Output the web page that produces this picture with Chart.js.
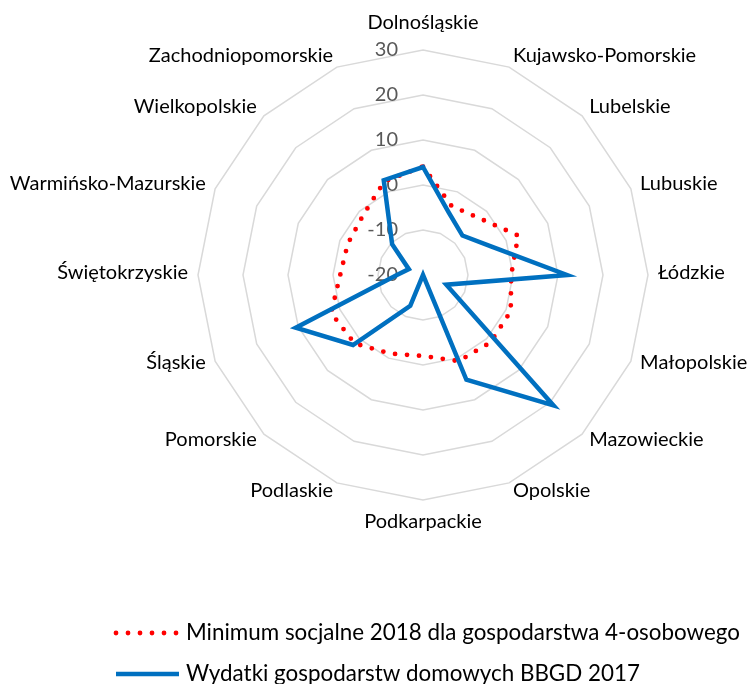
<!DOCTYPE html>
<html>
<head>
<meta charset="utf-8">
<script src="https://cdn.jsdelivr.net/npm/chart.js@4"></script>
<style>
  body { margin: 0; background: #fff; }
  #wrap { width: 747px; height: 684px; position: relative; }
</style>
</head>
<body>
<div id="wrap"><canvas id="radar"></canvas></div>
<script>
const regions = ["Dolnośląskie", "Kujawsko-Pomorskie", "Lubelskie", "Lubuskie", "Łódzkie", "Małopolskie",
    "Mazowieckie", "Opolskie", "Podkarpackie", "Podlaskie", "Pomorskie", "Śląskie", "Świętokrzyskie",
    "Warmińsko-Mazurskie", "Wielkopolskie", "Zachodniopomorskie"];
const minimumSocjalne = [4.1, -3.4, -2.2, 2.9, -0.4, 1.1, 1.2, 0.7, -2.0, -1.1, 1.5, 2.1, -1.6, -1.9, -1.2, 2.5];
const wydatkiBBGD = [4, -5, -7.6, -3.5, 12, -14.4, 21, 5.2, -20, -12.6, 2, 10.6, -14.2, -16.6, -10.3, 2.8];
const tickValues = [-20, -10, 0, 10, 20, 30];
const seriesNames = ["Minimum socjalne 2018 dla gospodarstwa 4-osobowego", "Wydatki gospodarstw domowych BBGD 2017"];

const labelFont = "20px Lato";

// axis numbers sit left of the vertical axis, under the lines
const tickPlugin = {
    id: "tickText",
    beforeDatasetsDraw(chart) {
        const r = chart.scales.r;
        const ctx = chart.ctx;
        ctx.save();
        ctx.font = labelFont;
        ctx.fillStyle = "#595959";
        ctx.textAlign = "right";
        ctx.textBaseline = "middle";
        tickValues.forEach(v => {
            ctx.fillText(String(v), r.xCenter - 25, r.yCenter - r.getDistanceFromCenterForValue(v));
        });
        ctx.restore();
    }
};

// region names around the outer ring, plus the legend at the bottom
const textPlugin = {
    id: "outerText",
    afterDraw(chart) {
        const r = chart.scales.r;
        const ctx = chart.ctx;
        ctx.save();
        ctx.font = labelFont;
        ctx.fillStyle = "#000";
        ctx.textBaseline = "middle";
        regions.forEach((name, i) => {
            const p = r.getPointPosition(i, r.drawingArea + 10);
            const deg = Math.round(i * 360 / regions.length);
            let y = p.y - 2;
            let align = "center";
            if (deg === 0) y = p.y - 17;
            else if (deg === 180) y = p.y + 12;
            else align = deg < 180 ? "left" : "right";
            ctx.textAlign = align;
            ctx.fillText(name, p.x, y);
        });

        const rows = [633, 674];
        ctx.font = "22.4px Lato";
        ctx.textAlign = "left";
        chart.data.datasets.forEach((ds, i) => {
            const y = rows[i];
            ctx.save();
            ctx.strokeStyle = ds.borderColor;
            ctx.lineWidth = ds.borderWidth;
            ctx.lineCap = ds.borderCapStyle;
            ctx.setLineDash(ds.borderDash);
            ctx.beginPath();
            ctx.moveTo(116, y);
            ctx.lineTo(179, y);
            ctx.stroke();
            ctx.restore();
            ctx.fillText(ds.label, 186, y);
        });
        ctx.restore();
    }
};

new Chart(document.getElementById("radar"), {
    type: "radar",
    data: {
        labels: regions,
        datasets: [{
            label: seriesNames[0],
            data: minimumSocjalne,
            borderColor: "#FF0000",
            borderWidth: 4.8,
            borderDash: [0, 12],
            borderCapStyle: "round",
            borderJoinStyle: "round",
            fill: false,
            pointRadius: 0,
            pointHitRadius: 0,
            order: 2
        }, {
            label: seriesNames[1],
            data: wydatkiBBGD,
            borderColor: "#0070C0",
            borderWidth: 4.5,
            borderDash: [],
            borderCapStyle: "butt",
            borderJoinStyle: "miter",
            fill: false,
            pointRadius: 0,
            pointHitRadius: 0,
            order: 1
        }]
    },
    options: {
        responsive: true,
        maintainAspectRatio: false,
        animation: false,
        devicePixelRatio: 1,
        layout: {
            padding: { left: 198, right: 99, top: 50, bottom: 184 }
        },
        plugins: {
            legend: { display: false },
            tooltip: { enabled: false }
        },
        scales: {
            r: {
                min: -20,
                max: 30,
                ticks: { stepSize: 10, display: false },
                grid: { color: "#d9d9d9", lineWidth: 1.5 },
                angleLines: { display: false },
                pointLabels: { display: false }
            }
        }
    },
    plugins: [tickPlugin, textPlugin]
});
</script>
</body>
</html>
